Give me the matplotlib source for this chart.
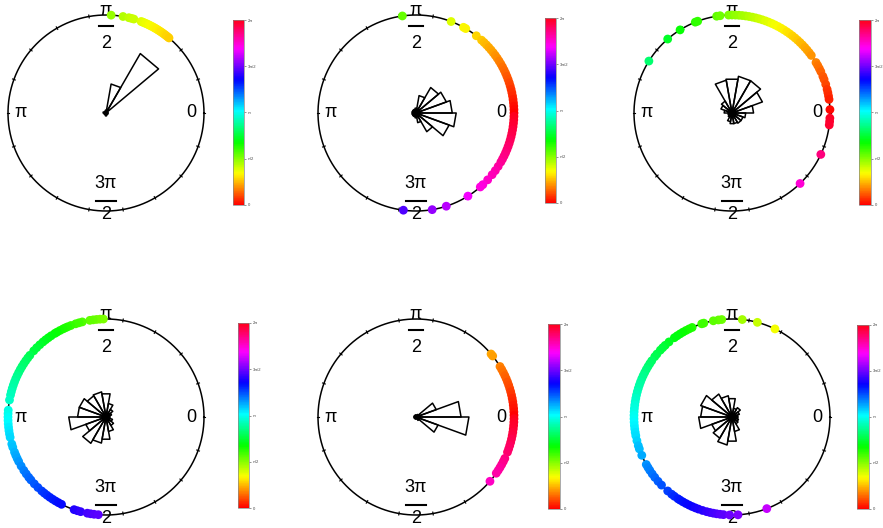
import numpy as np
import matplotlib
matplotlib.use("Agg")
import matplotlib.pyplot as plt
from matplotlib.cm import ScalarMappable
from matplotlib.colors import Normalize

plt.rcParams["font.family"] = ["Liberation Sans", "DejaVu Sans"]

W, H = 883, 528

# phase angles (deg) of the points on each circle
phase_a = [87, 80, 76.5, 75, 73.5, 69, 68, 67, 66, 65, 64, 63, 62, 61, 60, 59, 58, 57, 56,
           55, 54, 53, 52, 51, 50]
phase_b = [98, 69, 61, 59.5, 52, 48, 46, 44, 42, 40, 38, 36, 34, 32, 30, 28, 26, 24, 22, 20,
           18, 16, 14, 12, 10, 8, 6, 4, 2, 0, -2, -4, -6, -8, -10, -12, -14, -16, -18, -20,
           -22, -24, -26, -28, -30, -33, -36, -39, -43, -47, -49, -58, -72, -80.5, -97.4]
phase_c = [148, 131, 122, 112, 110.5, 99, 97, 92, 90, 88, 86, 84, 82, 80, 78, 76, 74, 72, 70,
           68, 66, 64, 62, 60, 58, 56, 54, 52, 50, 48, 46, 44, 42, 40, 38, 36, 31, 29, 27, 25,
           22, 20, 17, 14, 12, 10, 8, 2, -3, -5, -7, -25, -46]
phase_d = [91.5, 93.5, 95.5, 97.5, 99.5, 104, 106, 108, 111, 113, 114.5, 116, 118, 120, 121.5,
           124, 126, 128, 130, 132.5, 135, 137.5, 141, 143, 145, 147, 149, 151, 153, 155, 157,
           159, 161, 163, 165, 167, 170, 176, 178, 180, 182, 184, 186, 188, 190, 192, 196, 198,
           201, 203, 205, 207, 210, 213, 215.5, 218, 220, 223, 226, 229, 231, 233, 235, 237,
           239, 241, 243, 251, 253, 255, 259, 261, 263, 265.5]
phase_e = [40, 38.5, 31, 29, 27, 25, 23, 21, 19, 17, 15, 13, 11, 9, 7, 5, 3, 1, -1, -3, -5,
           -7, -9, -11, -13, -15, -17, -19, -21, -25, -27, -29, -31, -33, -35, -41]
phase_f = [64, 75, 84, 96, 98, 101, 106.7, 108, 114, 116, 118, 120, 122, 124, 126, 130, 133,
           135, 137, 140, 142, 145, 147, 149, 151, 153, 155, 157, 159, 161, 163, 165, 167, 169,
           171, 173, 175, 177, 179, 181, 183, 185, 187, 189, 191, 194, 197, 199, 203, 209, 211,
           213, 215.5, 218, 221, 224, 229, 232, 234, 236.5, 238, 240, 242, 244, 246, 248, 250,
           252.5, 255, 257, 259, 261, 263, 265, 268.6, 273.5, 290.8]

# rose histogram heights, 18 bins of 20 deg starting at 0 (fraction of circle radius)
rose_a = [0.02, 0.02, 0.70, 0.30, 0.03, 0.02, 0.02, 0.02, 0.03, 0.02, 0.02, 0.02, 0.02, 0.03,
          0.02, 0.02, 0.02, 0.02]
rose_b = [0.37, 0.33, 0.30, 0.18, 0.05, 0.04, 0.04, 0.04, 0.04, 0.04, 0.04, 0.04, 0.04, 0.05,
          0.10, 0.22, 0.36, 0.41]
rose_c = [0.22, 0.33, 0.38, 0.38, 0.35, 0.34, 0.14, 0.12, 0.08, 0.04, 0.04, 0.05, 0.09, 0.11,
          0.11, 0.12, 0.12, 0.14]
rose_d = [0.04, 0.06, 0.09, 0.14, 0.24, 0.26, 0.25, 0.29, 0.29, 0.38, 0.22, 0.31, 0.27, 0.23,
          0.15, 0.10, 0.07, 0.04]
rose_e = [0.46, 0.22, 0.03, 0.02, 0.02, 0.02, 0.02, 0.02, 0.02, 0.02, 0.02, 0.02, 0.02, 0.02,
          0.02, 0.04, 0.24, 0.54]
rose_f = [0.06, 0.08, 0.11, 0.09, 0.19, 0.22, 0.27, 0.34, 0.32, 0.34, 0.22, 0.25, 0.29, 0.25,
          0.15, 0.08, 0.07, 0.06]

cbar_ticks = [0, np.pi / 2, np.pi, 3 * np.pi / 2, 2 * np.pi]
cbar_labels = ["0", "\u03c0/2", "\u03c0", "3\u03c0/2", "2\u03c0"]

# layout in pixels: circle centre, colorbar box (x, y, w, h)
panels = [
    (phase_a, rose_a, (106, 113), (233, 20, 11, 185)),
    (phase_b, rose_b, (416, 113), (545, 18, 11, 185)),
    (phase_c, rose_c, (732, 113), (859, 20, 12, 185)),
    (phase_d, rose_d, (106, 417), (238, 323, 11, 185)),
    (phase_e, rose_e, (416, 417), (548, 324, 12, 185)),
    (phase_f, rose_f, (732, 417), (857, 325, 12, 184)),
]
R = 98.0  # circle radius in px
HALF = 125.0

fig = plt.figure(figsize=(W / 100, H / 100), dpi=100)
norm = Normalize(0, 2 * np.pi)
cmap = plt.get_cmap("hsv")

for ph, rose, (cx, cy), (bx, by, bw, bh) in panels:
    ax = fig.add_axes([(cx - HALF) / W, 1 - (cy + HALF) / H, 2 * HALF / W, 2 * HALF / H])
    lim = HALF / R
    ax.set_xlim(-lim, lim); ax.set_ylim(-lim, lim); ax.set_aspect("equal"); ax.axis("off")

    t = np.linspace(0, 2 * np.pi, 400)
    ax.plot(np.cos(t), np.sin(t), color="k", lw=1.1, zorder=1)
    for a in np.deg2rad(np.arange(0, 360, 20)):
        ax.plot([0.985 * np.cos(a), 1.015 * np.cos(a)], [0.985 * np.sin(a), 1.015 * np.sin(a)],
                color="k", lw=0.8, zorder=1)

    # labels
    fs = 13
    ax.text(0.875, 0, "0", ha="center", va="center", fontsize=fs)
    ax.text(-0.87, 0, "\u03c0", ha="center", va="center", fontsize=fs)
    ax.text(0, 1.05, "\u03c0", ha="center", va="center", fontsize=fs)
    ax.plot([-0.068, 0.068], [0.884, 0.884], color="k", lw=1.5)
    ax.text(0, 0.71, "2", ha="center", va="center", fontsize=fs)
    ax.text(0, -0.72, "3\u03c0", ha="center", va="center", fontsize=fs)
    ax.plot([-0.1, 0.1], [-0.898, -0.898], color="k", lw=1.5)
    ax.text(0, -1.04, "2", ha="center", va="center", fontsize=fs)

    # rose histogram
    edges = np.deg2rad(np.arange(0, 361, 20))
    for k, r in enumerate(rose):
        a1, a2 = edges[k], edges[k + 1]
        ax.plot([0, r * np.cos(a1), r * np.cos(a2), 0], [0, r * np.sin(a1), r * np.sin(a2), 0],
                color="k", lw=1.1, zorder=2)

    # phase points
    th = np.mod(np.deg2rad(ph), 2 * np.pi)
    ax.scatter(np.cos(th), np.sin(th), c=th, cmap=cmap, norm=norm, s=40, linewidths=0, zorder=3)

    cax = fig.add_axes([bx / W, 1 - (by + bh) / H, bw / W, bh / H])
    cb = fig.colorbar(ScalarMappable(norm=norm, cmap=cmap), cax=cax, ticks=cbar_ticks)
    cb.ax.set_yticklabels(cbar_labels, fontsize=3)
    cb.ax.tick_params(length=1.5, width=0.4, pad=1, colors="#444444")
    cb.outline.set_linewidth(0.5)
    cb.outline.set_edgecolor("#888888")

fig.savefig("out.png", dpi=100)
